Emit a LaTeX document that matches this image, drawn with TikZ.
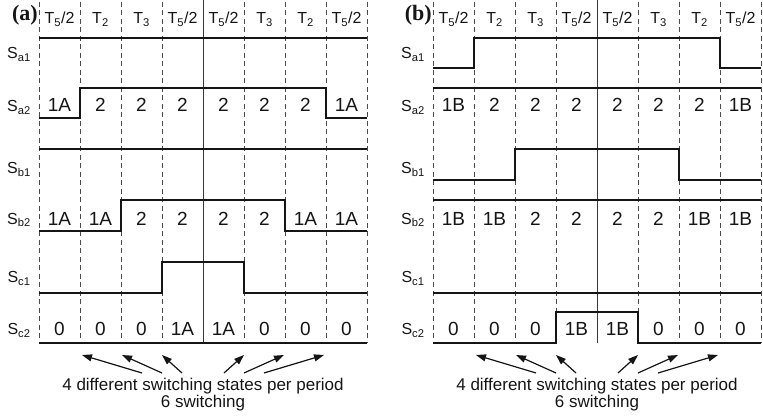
\documentclass[tikz,border=0pt]{standalone}
\usepackage{fontspec}
\setmainfont{Liberation Sans}
\newfontfamily\tagfont{Liberation Serif}
\usetikzlibrary{arrows.meta}

\definecolor{ink}{HTML}{151515}
\definecolor{gridc}{HTML}{4A4A4A}

\tikzset{
  wave/.style={line width=2.6pt, draw=ink, line join=miter},
  slotline/.style={draw=gridc, line width=0.9pt, dash pattern=on 5pt off 3.5pt},
  centreline/.style={draw=ink!85, line width=0.9pt},
  hdr/.style={font=\fontsize{16}{16}\selectfont, text=ink, anchor=base, inner sep=0pt},
  rowlab/.style={font=\fontsize{16}{16}\selectfont, text=ink, anchor=base, inner sep=0pt},
  cell/.style={font=\fontsize{19}{19}\selectfont, text=ink, anchor=base, inner sep=0pt},
  note/.style={font=\fontsize{17}{17}\selectfont, text=ink, anchor=base, inner sep=0pt},
  tag/.style={font=\tagfont\bfseries\fontsize{22}{22}\selectfont, text=ink, anchor=base east, inner sep=0pt},
  pointer/.style={-{Triangle[length=10pt,width=7pt]}, draw=ink, line width=1.2pt},
}

% slot grid, interval headings, row names and the "switching" pointers of one panel
\newcommand{\panelframe}[2]{%
  \foreach \i in {0,1,2,3,5,6,7,8}
    \draw[slotline] (41*\i,2) -- (41*\i,343);
  \draw[centreline] (164,0) -- (164,343);
  \node[tag] (#1-tag) at (-1,21) {(#2)};
  \foreach \t [count=\i from 0] in {T\textsubscript{5}/2,T\textsubscript{2},T\textsubscript{3},T\textsubscript{5}/2,T\textsubscript{5}/2,T\textsubscript{3},T\textsubscript{2},T\textsubscript{5}/2}
    \node[hdr] (#1-h\i) at (41*\i+20.5,23.7) {\t};
  \node[rowlab] (#1-sa1) at (-20,58.7) {S\textsubscript{a1}};
  \node[rowlab] (#1-sa2) at (-20,111.7) {S\textsubscript{a2}};
  \node[rowlab] (#1-sb1) at (-20,173.7) {S\textsubscript{b1}};
  \node[rowlab] (#1-sb2) at (-20,224.2) {S\textsubscript{b2}};
  \node[rowlab] (#1-sc1) at (-20,282.7) {S\textsubscript{c1}};
  \node[rowlab] (#1-sc2) at (-20,334.7) {S\textsubscript{c2}};
  \node[note] (#1-note1) at (164,391) {4 different switching states per period};
  \node[note] (#1-note2) at (164,407) {6 switching};
  \foreach \tip/\tail [count=\k] in {43/103,83/123,123/143,205/185,245/205,285/225} {
    \coordinate (#1-p\k) at (\tip,355);
    \coordinate (#1-q\k) at (\tail,373);
    \draw[pointer] (#1-q\k) -- (#1-p\k);
  }
}

% the states written in the slots of rows a2, b2 and c2
\newcommand{\panelstates}[4]{%
  \foreach \s [count=\i from 0] in {#2}
    \node[cell] (#1-a\i) at (41*\i+20.5,111.3) {\s};
  \foreach \s [count=\i from 0] in {#3}
    \node[cell] (#1-b\i) at (41*\i+20.5,225.3) {\s};
  \foreach \s [count=\i from 0] in {#4}
    \node[cell] (#1-c\i) at (41*\i+20.5,335.8) {\s};
}

\begin{document}
\begin{tikzpicture}[x=1pt,y=-1pt]
\useasboundingbox (0,0) rectangle (763,419);

% panel (a)
\begin{scope}[xshift=39pt]
  \panelframe{a}{a}
  \panelstates{a}{1A,2,2,2,2,2,2,1A}{1A,1A,2,2,2,2,1A,1A}{0,0,0,1A,1A,0,0,0}
  \draw[wave] (0,38) -- (328,38);
  \draw[wave] (0,118) -| (41,88) -| (287,118) -- (328,118);
  \draw[wave] (0,149) -- (328,149);
  \draw[wave] (0,231) -| (82,200) -| (246,231) -- (328,231);
  \draw[wave] (0,293) -| (123,262) -| (205,293) -- (328,293);
  \draw[wave] (0,343) -- (328,343);
\end{scope}

% panel (b)
\begin{scope}[xshift=433pt]
  \panelframe{b}{b}
  \panelstates{b}{1B,2,2,2,2,2,2,1B}{1B,1B,2,2,2,2,1B,1B}{0,0,0,1B,1B,0,0,0}
  \draw[wave] (0,68) -| (41,38) -| (287,68) -- (328,68);
  \draw[wave] (0,88) -- (328,88);
  \draw[wave] (0,180) -| (82,149) -| (246,180) -- (328,180);
  \draw[wave] (0,200) -- (328,200);
  \draw[wave] (0,293) -- (328,293);
  \draw[wave] (0,343) -| (123,312) -| (205,343) -- (328,343);
\end{scope}
\end{tikzpicture}
\end{document}
